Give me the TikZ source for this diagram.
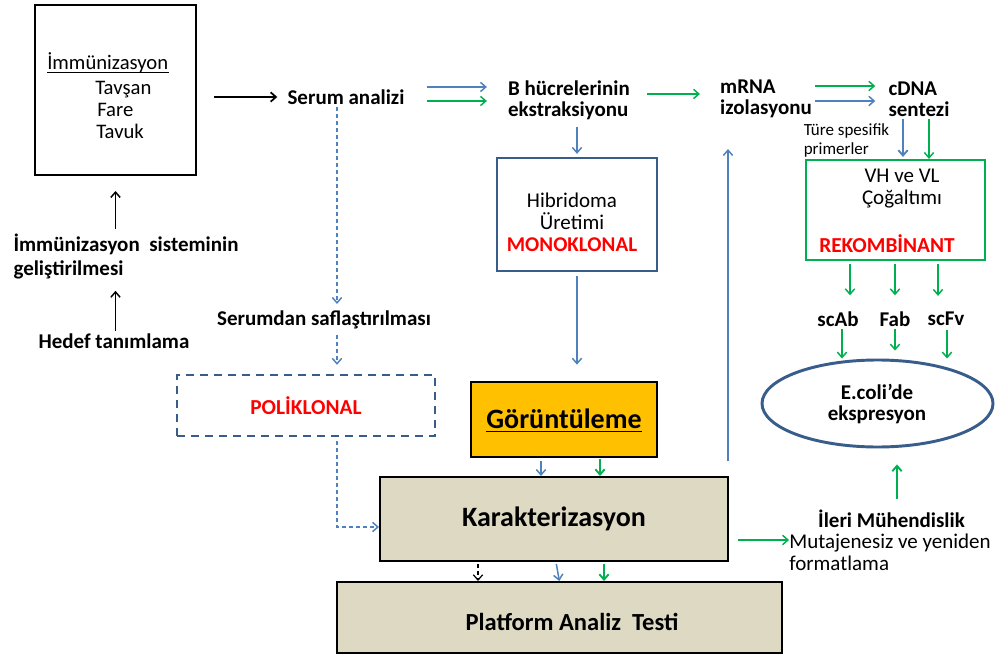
\documentclass[tikz,border=0pt]{standalone}
\usepackage{fontspec}
\setmainfont{Carlito}
\usetikzlibrary{arrows.meta,shapes.geometric,calc}
\definecolor{obl}{HTML}{4F81BD}
\definecolor{ogr}{HTML}{00B050}
\definecolor{dkb}{HTML}{385D8A}
\definecolor{ored}{HTML}{FF0000}
\definecolor{gold}{HTML}{FFC000}
\definecolor{beige}{HTML}{DDD9C3}
\begin{document}
\begin{tikzpicture}[x=0.75pt,y=-0.75pt,
  txt/.style={inner sep=0pt, font=\fontsize{15.75}{16}\selectfont\bfseries},
  reg/.style={inner sep=0pt, font=\fontsize{15.5}{16.5}\selectfont},
  smalltxt/.style={inner sep=0pt, font=\fontsize{12.75}{14.25}\selectfont},
  redtxt/.style={inner sep=0pt, text=ored, font=\fontsize{16}{16}\selectfont\bfseries},
  boxA/.style={draw, line width=1.5pt, inner sep=0pt},
  arr/.style={-{Straight Barb[length=4pt,width=7pt]}, line width=1.1pt},
  barr/.style={arr, draw=obl},
  garr/.style={arr, draw=ogr},
  karr/.style={arr, draw=black},
  dsh/.style={dash pattern=on 3pt off 2.25pt}
]
\useasboundingbox (0,0) rectangle (999,656);
\fill[white] (0,0) rectangle (999,656);

% boxes
\node[boxA, minimum width=120.75pt, minimum height=127.5pt] (immbox) at (115.5,90) {};
\node[draw=dkb, line width=2.2pt, minimum width=120pt, minimum height=84.75pt, inner sep=0pt] (hib) at (577,214.5) {};
\node[draw=ogr, line width=1.6pt, minimum width=134.25pt, minimum height=75pt, inner sep=0pt] (vh) at (895.5,210) {};
\node[draw=dkb, line width=1.8pt, dash pattern=on 6pt off 4.5pt, minimum width=193.5pt, minimum height=45.75pt, inner sep=0pt] (poli) at (306,405.5) {};
\node[boxA, line width=2pt, fill=gold, minimum width=139.5pt, minimum height=56.25pt] (gor) at (564,419.5) {};
\node[boxA, fill=beige, minimum width=261pt, minimum height=63pt] (karak) at (554,519) {};
\node[boxA, fill=beige, minimum width=333.75pt, minimum height=53.25pt] (plat) at (559.5,617.5) {};
\node[ellipse, draw=dkb, line width=2.2pt, minimum width=173.25pt, minimum height=65.25pt, inner sep=0pt] (ell) at (877.5,403.5) {};

% texts in the first box
\node[reg, anchor=base west] (t0) at (47,70) {İmmünizasyon};
\draw[line width=0.75pt] ([yshift=-1.8pt]t0.base west) -- ([yshift=-1.8pt]t0.base east);
\node[reg, anchor=base west] (t1) at (95,95) {Tavşan};
\node[reg, anchor=base west] (t2) at (97,117) {Fare};
\node[reg, anchor=base west] (t3) at (96,139) {Tavuk};

% other texts
\node[txt] (serum) at (346,97) {Serum analizi};
\node[txt, align=left] (bhuc) at (569,100.5) {B hücrelerinin\\ekstraksiyonu};
\node[txt, align=left] (mrna) at (766,99) {mRNA\\izolasyonu};
\node[txt, align=left] (cdna) at (919,99) {cDNA\\sentezi};
\node[smalltxt, align=left] (tur) at (846.5,140.5) {Türe spesifik\\primerler};
\node[txt, align=left, font=\fontsize{15.75}{18}\selectfont\bfseries] (sist) at (126,256) {İmmünizasyon\ \ sisteminin\\geliştirilmesi};
\node[txt] (hedef) at (114,341) {Hedef tanımlama};
\node[txt] (saf) at (324,320) {Serumdan saflaştırılması};
\node[redtxt] (polit) at (306,406) {POLİKLONAL};
\node[reg, align=center, font=\fontsize{15.75}{16.5}\selectfont] (hibt) at (572,222) {Hibridoma\\Üretimi\\\textcolor{ored}{\bfseries MONOKLONAL}};
\node[reg, align=center, font=\fontsize{15.75}{16.5}\selectfont] (vht) at (902,189) {VH ve VL\\Çoğaltımı};
\node[redtxt] (rek) at (887,244) {REKOMBİNANT};
\node[txt] (scab) at (838,319) {scAb};
\node[txt] (fab) at (895,319) {Fab};
\node[txt] (scfv) at (946,319) {scFv};
\node[txt, align=center] (ellt) at (877,404) {E.coli’de\\ekspresyon};
\node[inner sep=0pt, font=\fontsize{21}{21}\selectfont\bfseries] (gort) at (564,419) {Görüntüleme};
\draw[line width=1.2pt] ([yshift=-2.2pt]gort.base west) -- ([yshift=-2.2pt]gort.base east);
\node[inner sep=0pt, font=\fontsize{21}{21}\selectfont\bfseries] (karakt) at (554,519) {Karakterizasyon};
\node[inner sep=0pt, font=\fontsize{18.4}{18.4}\selectfont\bfseries] (platt) at (572,622) {Platform Analiz\ \ Testi};
\node[txt] (ileri) at (891.5,519) {İleri Mühendislik};
\node[reg, align=left, font=\fontsize{15.75}{16.5}\selectfont] (mut) at (890,552) {Mutajenesiz ve yeniden\\formatlama};

% connectors
\draw[karr, line width=1.3pt, shorten <=12.75pt, shorten >=7.5pt] (immbox.east |- serum.west) -- (serum.west);
\draw[karr, shorten <=3pt, shorten >=11.25pt] (sist.north -| immbox.south) -- (immbox.south);
\draw[karr, shorten <=2pt, shorten >=9pt] (hedef.north -| immbox.south) -- (sist.south -| immbox.south);

\draw[barr, shorten <=16.5pt, shorten >=15.75pt] ([yshift=7.5pt]serum.east) -- ([yshift=7.5pt]serum.east -| bhuc.west);
\draw[garr, shorten <=16.5pt, shorten >=15.75pt] ([yshift=-3pt]serum.east) -- ([yshift=-3pt]serum.east -| bhuc.west);
\draw[garr, shorten <=12.75pt, shorten >=15pt] ([yshift=4.9pt]bhuc.east) -- ([yshift=4.9pt]bhuc.east -| mrna.west);
\draw[garr, shorten <=2.25pt, shorten >=9.75pt] ([yshift=9.75pt]mrna.east) -- ([yshift=9.75pt]mrna.east -| cdna.west);
\draw[barr, shorten <=2.25pt, shorten >=9.75pt] ([yshift=-1.5pt]mrna.east) -- ([yshift=-1.5pt]mrna.east -| cdna.west);

\draw[barr, line width=1.4pt, shorten <=2pt, shorten >=1.5pt] ([xshift=-12pt]cdna.south) -- ([xshift=-12pt]cdna.south |- vh.north);
\draw[garr, shorten <=2pt] ([xshift=7.5pt]cdna.south) -- ([xshift=7.5pt]cdna.south |- vh.north);

\draw[garr, shorten <=2.25pt, shorten >=12pt] ([xshift=9pt]scab.north |- vh.south) -- ([xshift=9pt]scab.north);
\draw[garr, shorten <=2.25pt, shorten >=12pt] (fab.north |- vh.south) -- (fab.north);
\draw[garr, shorten <=2.25pt, shorten >=12pt] ([xshift=-6pt]scfv.north |- vh.south) -- ([xshift=-6pt]scfv.north);

\draw[garr, shorten <=2pt] ([xshift=3pt]scab.south) -- ([xshift=3pt]scab.south |- ell.north);
\draw[garr, shorten <=2pt, shorten >=6pt] (fab.south) -- (fab.south |- ell.north);
\draw[garr, shorten <=3pt] ([xshift=0.75pt]scfv.south) -- ([xshift=0.75pt]scfv.south |- ell.north);

\draw[garr, line width=1.4pt, shorten <=8pt, shorten >=12pt] ([xshift=4.1pt]ileri.north) -- ([xshift=4.1pt]ileri.north |- ell.south);
\draw[garr, shorten <=6.75pt] ([yshift=-15.75pt]karak.east) -- ([yshift=-15.75pt]karak.east -| mut.west);
\draw[barr, shorten <=11.25pt, shorten >=23pt] ([xshift=-0.75pt]karak.north east) -- ([xshift=-0.75pt]karak.north east |- mrna.south);

\draw[barr, shorten <=5pt, shorten >=2pt] (hib.north |- bhuc.south) -- (hib.north);
\draw[barr, shorten <=3pt, shorten >=12pt] (hib.south) -- (hib.south |- gor.north);
\draw[barr, shorten <=2.25pt] ([xshift=-17.25pt]gor.south) -- ([xshift=-17.25pt]gor.south |- karak.north);
\draw[garr, line width=1.4pt, shorten <=0.5pt] ([xshift=27pt]gor.south) -- ([xshift=27pt]gor.south |- karak.north);

\draw[karr, dsh, line width=0.9pt, shorten <=1.5pt] ([xshift=-57pt]karak.south) -- ([xshift=-57pt]karak.south |- plat.north);
\draw[barr, shorten <=1.5pt] ([xshift=1.5pt]karak.south) -- ([xshift=4pt]karak.south |- plat.north);
\draw[garr, line width=1.4pt, shorten <=1.5pt] ([xshift=37.5pt]karak.south) -- ([xshift=37.5pt]karak.south |- plat.north);

\draw[barr, dsh, shorten <=2pt, shorten >=5pt] ([xshift=-6.75pt]serum.south) -- ([xshift=-6.75pt]serum.south |- saf.north);
\draw[barr, dsh, shorten <=4pt, shorten >=6.75pt] ([xshift=23.25pt]poli.north |- saf.south) -- ([xshift=23.25pt]poli.north);
\draw[barr, dsh, shorten <=3pt] ([xshift=23.25pt]poli.south) |- ([yshift=-6pt]karak.west);
\end{tikzpicture}
\end{document}
